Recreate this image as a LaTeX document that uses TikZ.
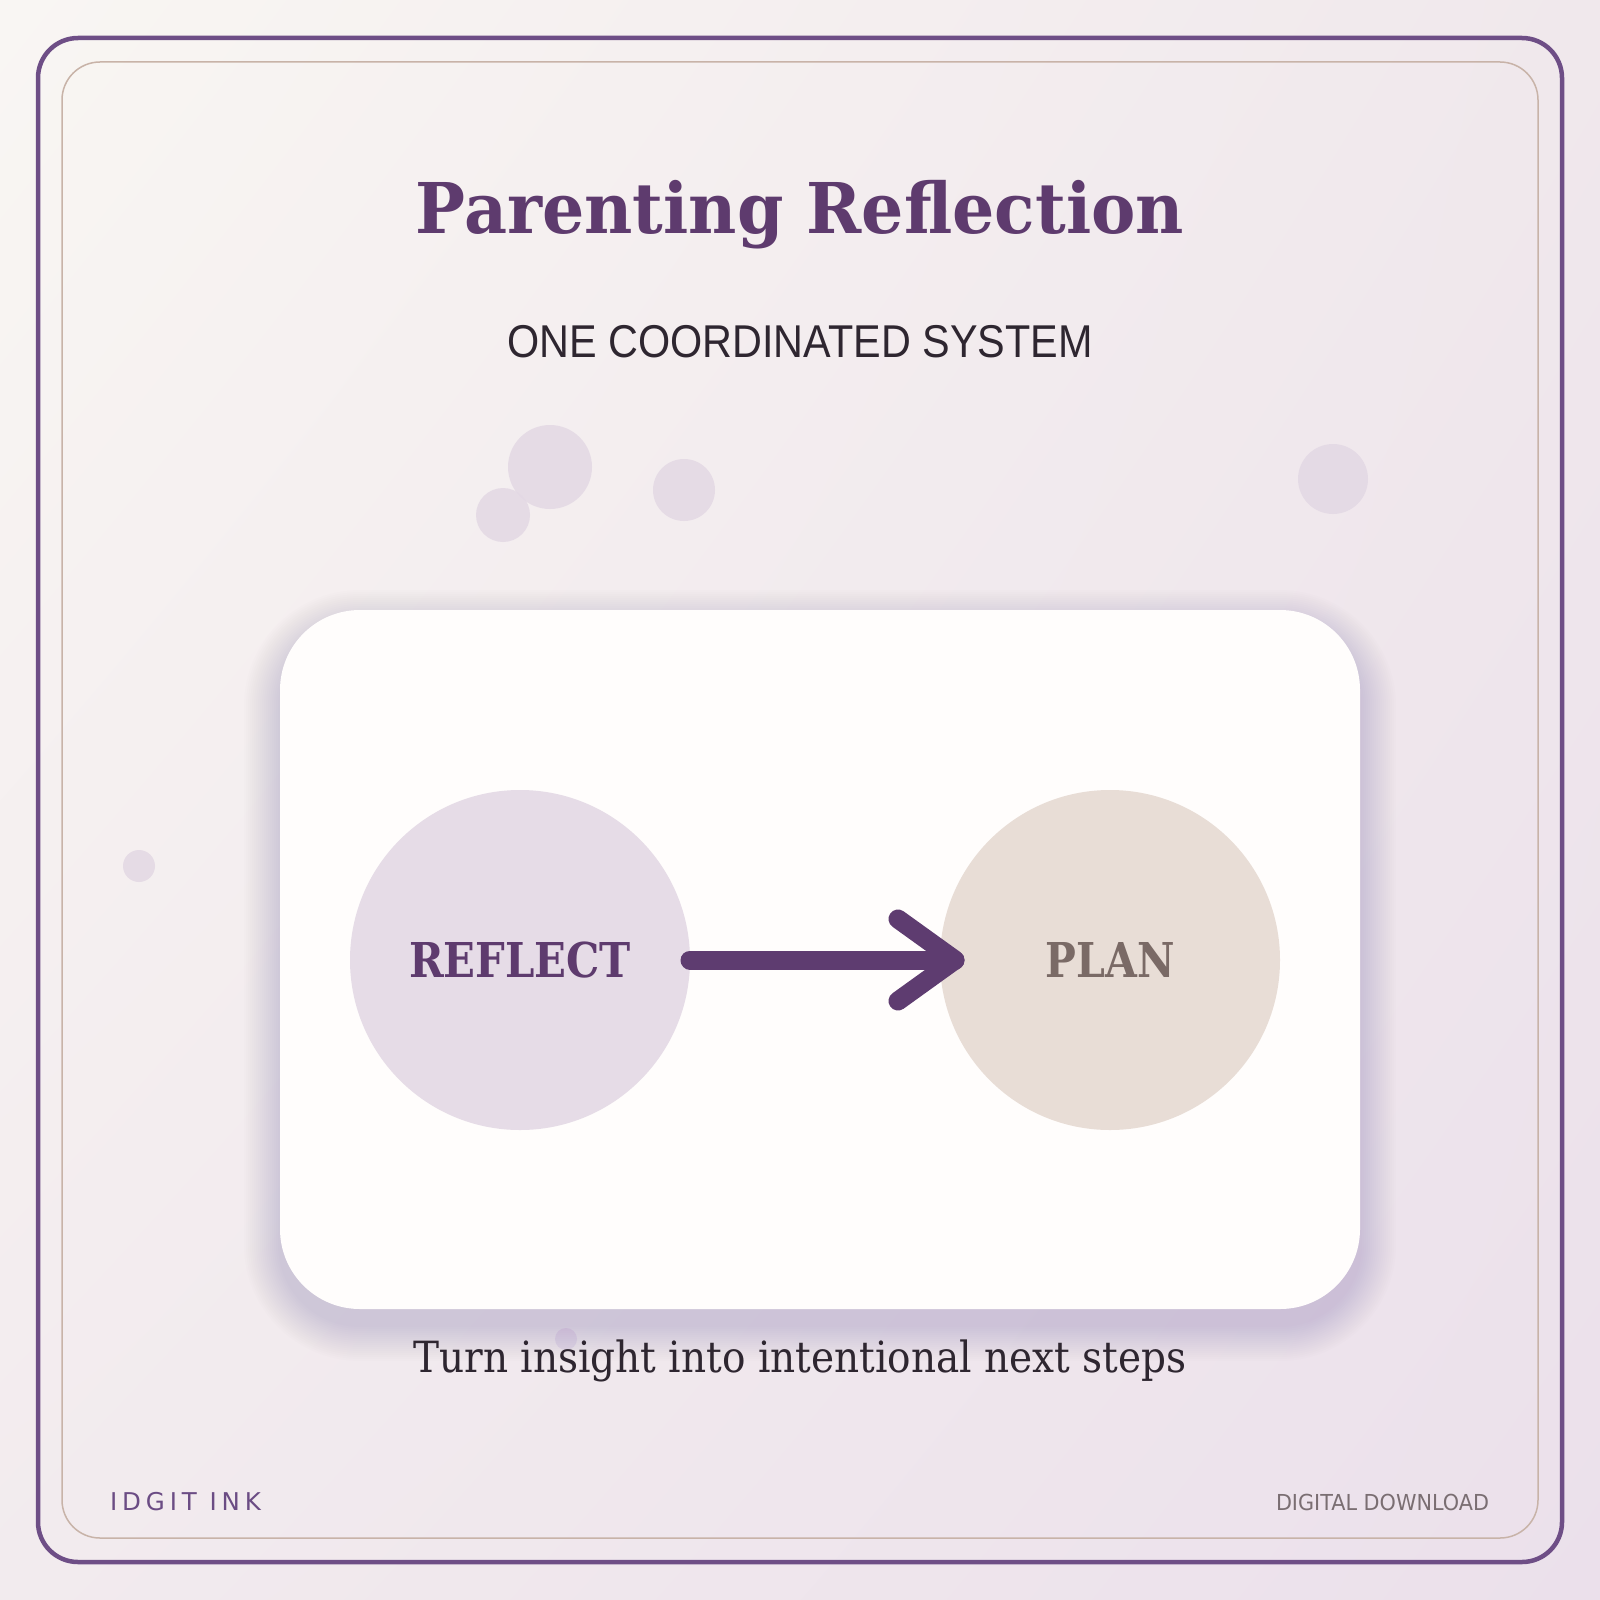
\documentclass[tikz,border=0pt]{standalone}
\usepackage{fontspec}
\usepackage{graphicx}
\setmainfont{DejaVu Serif}
\newfontfamily\subfont{Liberation Sans}
\newfontfamily\smallsans{DejaVu Sans}
\newfontfamily\brandfont{DejaVu Sans}[LetterSpace=20]
\usetikzlibrary{calc,shadings}
\definecolor{bgA}{HTML}{F9F6F3}
\definecolor{bgB}{HTML}{F0E8EC}
\definecolor{bgC}{HTML}{F2EBEE}
\definecolor{bgD}{HTML}{EBE0EB}
\definecolor{titlec}{HTML}{5E3B6E}
\definecolor{darktext}{HTML}{2E2630}
\definecolor{planc}{HTML}{7A6A66}
\definecolor{reflectfill}{HTML}{E6DCE7}
\definecolor{planfill}{HTML}{E8DDD6}
\definecolor{arrowc}{HTML}{5E3C70}
\definecolor{outerc}{HTML}{6E4E86}
\definecolor{innerc}{HTML}{C8B3A8}
\definecolor{decoc}{HTML}{E3D8E4}
\definecolor{brandc}{HTML}{6B4C84}
\definecolor{dlc}{HTML}{7A6E72}
\definecolor{shadowc}{HTML}{7A5892}
\definecolor{cardc}{HTML}{FFFDFC}
\tikzset{
  txt/.style={inner sep=0pt, outer sep=0pt},
  deco/.style={fill=decoc, opacity=0.85},
  bubble/.style={circle, minimum size=340pt, inner sep=0pt, outer sep=0pt},
  flow/.style={draw=arrowc, line width=19pt, line cap=round, line join=round},
  cardbox/.style={rectangle, rounded corners=80pt, fill=cardc, minimum width=1080pt, minimum height=699pt, inner sep=0pt}
}
\begin{document}
\begin{tikzpicture}[x=1pt,y=-1pt]
\useasboundingbox (0,0) rectangle (1600,1600);
\shade[upper left=bgA, upper right=bgB, lower left=bgC, lower right=bgD] (0,0) rectangle (1600,1600);
% decorative circles
\fill[deco] (550,467) circle (42);
\fill[deco] (503,515) circle (27);
\fill[deco] (684,490) circle (31);
\fill[deco] (1333,479) circle (35);
\fill[deco] (139,866) circle (16);
\fill[deco] (566,1339) circle (11);
% borders
\draw[outerc, line width=4.5pt, rounded corners=40pt] (38,38) rectangle (1562,1562);
\draw[innerc, line width=1.5pt, rounded corners=38pt] (62,62) rectangle (1538,1538);
% card shadow
\foreach \i in {2,4,...,36} {
  \fill[shadowc, opacity=0.012, rounded corners=80pt+\i pt] (280-\i, 610-\i+16) rectangle (1360+\i, 1309+\i+16);
}
\node[cardbox] (card) at (820,959.5) {};
% title texts
\node[txt, anchor=base, text=titlec] (title) at (800,233)
  {\resizebox{768pt}{\height}{\fontsize{70}{70}\selectfont\bfseries Parenting Reflection}};
\node[txt, anchor=base, text=darktext] (subtitle) at (800,357)
  {\resizebox{585pt}{\height}{\subfont\fontsize{46}{46}\selectfont ONE COORDINATED SYSTEM}};
% circles
\node[bubble, fill=reflectfill, text=titlec] (reflect) at (520,960)
  {\resizebox{222pt}{\height}{\fontsize{48}{48}\selectfont\bfseries REFLECT}};
\node[bubble, fill=planfill, text=planc] (plan) at (1110,960)
  {\resizebox{129pt}{\height}{\fontsize{48}{48}\selectfont\bfseries PLAN}};
% arrow
\coordinate (tip) at ([xshift=15pt]plan.west);
\draw[flow] (reflect.east) -- (tip);
\draw[flow] ($(tip)+(-57,-41)$) -- (tip) -- ($(tip)+(-57,41)$);
% tagline
\node[txt, anchor=base, text=darktext] (tagline) at (800,1372)
  {\resizebox{773pt}{\height}{\fontsize{43}{43}\selectfont Turn insight into intentional next steps}};
% footer
\node[txt, anchor=base west, text=brandc] (brand) at (110,1510)
  {\brandfont\fontsize{24.5}{24.5}\selectfont IDGIT INK};
\node[txt, anchor=base east, text=dlc] (download) at (1489,1510)
  {\resizebox{213pt}{\height}{\smallsans\fontsize{22}{22}\selectfont DIGITAL DOWNLOAD}};
\end{tikzpicture}
\end{document}
